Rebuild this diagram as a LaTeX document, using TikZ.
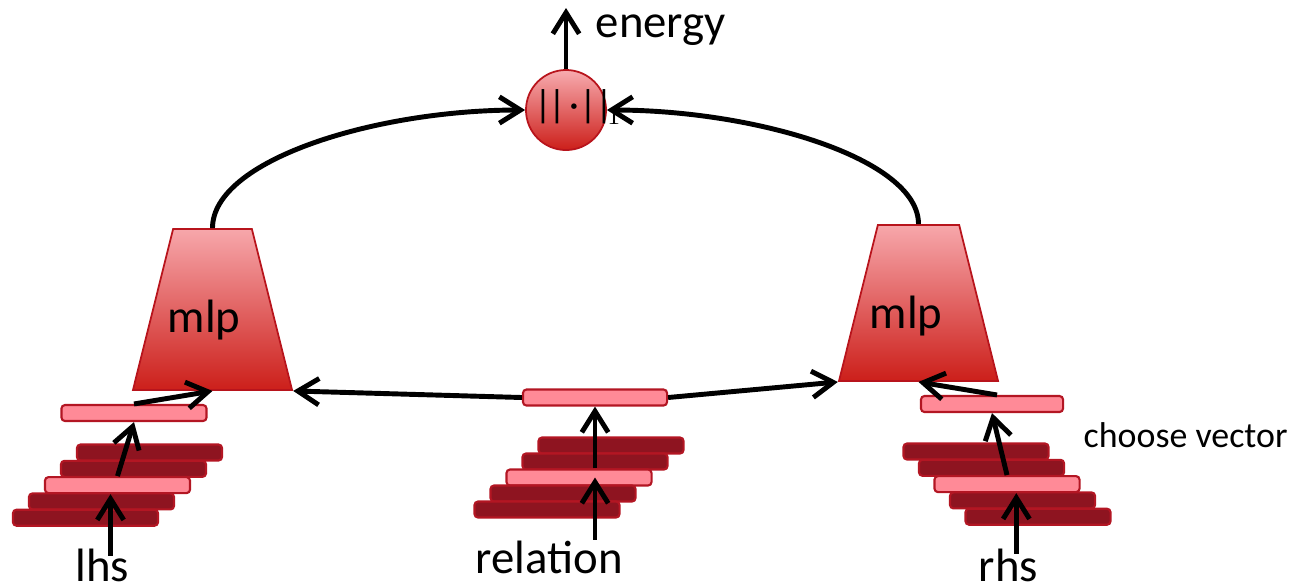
\documentclass[tikz,border=0pt]{standalone}
\usepackage{fontspec}
\setmainfont{Carlito}
\newfontfamily\serifone{Liberation Serif}
\usetikzlibrary{arrows.meta}
\usetikzlibrary{calc}
\usetikzlibrary{positioning}
\usetikzlibrary{shapes.geometric}

\definecolor{vecdark}{RGB}{142,20,32}
\definecolor{vecedge}{RGB}{179,22,35}
\definecolor{vecpink}{RGB}{255,138,151}
\definecolor{mlptop}{RGB}{247,167,171}
\definecolor{mlpbot}{RGB}{204,31,26}
\definecolor{mlpedge}{RGB}{184,20,28}

\newcommand{\normbar}{\makebox[0pt]{|}}

\tikzset{
  vecbar/.style={rectangle,draw=vecedge,fill=vecdark,line width=0.6pt,
    rounded corners=1pt,minimum width=1.45cm,minimum height=0.16cm,inner sep=0pt},
  chosen/.style={vecbar,fill=vecpink},
  mlpbox/.style={trapezium,trapezium angle=76,trapezium stretches body,
    minimum width=1.59cm,inner xsep=0pt,inner ysep=0.805cm,
    draw=mlpedge,line width=0.5pt,top color=mlptop,bottom color=mlpbot},
  normbox/.style={circle,minimum size=0.8cm,inner sep=0pt,
    draw=mlpedge,line width=0.5pt,top color=mlptop!95!white,bottom color=mlpbot},
  lbl/.style={font=\fontsize{13.3}{16}\selectfont,inner sep=0pt},
  arr/.style={line width=1.4pt,-{Straight Barb[length=6pt,width=7.5pt]}}
}

\begin{document}
\begin{tikzpicture}[x=0.01cm,y=-0.01cm]
  \useasboundingbox (0,0) rectangle (1298,587);

  % norm at the top
  \node [normbox] (norm) at (566,110) {};
  \coordinate (out) at (566,8);
  \node [lbl,anchor=base west] (energy) at (595,37) {energy};

  % the two mlps
  \node [mlpbox] (mlpL) at (212.5,309.5) {};
  \node [mlpbox,inner ysep=0.78cm] (mlpR) at (918.5,303) {};
  \node [lbl,anchor=base west] (mlpLtxt) at (167,332) {mlp};
  \node [lbl,anchor=base west] (mlpRtxt) at (869,328) {mlp};

  % stacks of vectors
  \foreach \i/\s in {0/vecbar,1/vecbar,2/chosen,3/vecbar,4/vecbar} {
    \node [\s] (l\i) at (149.5-16*\i,452.5+16.3*\i) {};
    \node [\s] (m\i) at (611-16*\i,445.5+16*\i) {};
    \node [\s] (r\i) at (976+15.5*\i,451.5+16.3*\i) {};
  }

  \node [chosen] (lvec) at (134,413) {};
  \node [chosen,minimum width=1.44cm] (relvec) at (595,397.5) {};
  \node [chosen,minimum width=1.42cm] (rvec) at (992,404) {};

  \node [lbl,anchor=base west] (lhs) at (75,581) {lhs};
  \node [lbl,anchor=base west] (relation) at (475,573) {relation};
  \node [lbl,anchor=base west] (rhs) at (978,581) {rhs};
  \node [anchor=base west,inner sep=0pt,font=\fontsize{10.2}{12}\selectfont]
    (choose) at (1083,447) {choose vector};

  \path [arr]
    (norm.north) edge (out)
    ($(lhs.north)+(8,8)$) edge ($(lhs.north |- l2.south)+(8,0)$)
    (l2.north) edge (lvec.south)
    (lvec.north) edge (mlpL.south)
    (relation.north -| relvec) edge (relvec |- m2.center)
    (m2.north -| relvec) edge (relvec.south)
    (relvec.west) edge (mlpL.bottom right corner)
    (relvec.east) edge (mlpR.bottom left corner)
    ($(rhs.north)+(8,6)$) edge ($(rhs.north |- r2.south)+(8,0)$)
    (r2.north) edge (rvec.south)
    ($(rvec.north)+(5,0)$) edge (mlpR.south);

  \draw [arr] (mlpL.north) .. controls +(0,-68) and +(-150,0) .. (norm.west);
  \draw [arr] (mlpR.north) .. controls +(0,-65) and +(150,0) .. (norm.east);

  \node [anchor=base west,inner sep=0pt,font=\fontsize{11}{12}\selectfont]
    (normtxt) at (543,117)
    {\normbar\hspace{3.98pt}\normbar\hspace{4.84pt}\makebox[0pt]{·}\hspace{3.98pt}%
     \normbar\hspace{4.55pt}\normbar\hspace{2.56pt}%
     \raisebox{-2.2pt}{\makebox[0pt]{\fontsize{7}{8}\serifone 1}}};
\end{tikzpicture}
\end{document}
